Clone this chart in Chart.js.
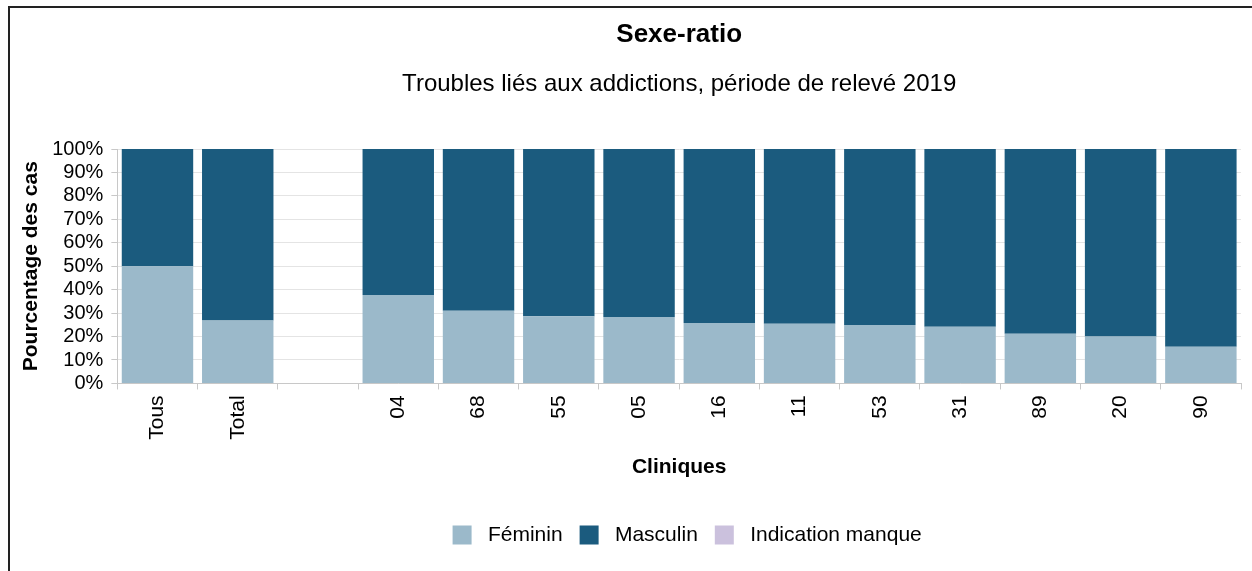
<!DOCTYPE html>
<html>
<head>
<meta charset="utf-8">
<script src="https://cdn.jsdelivr.net/npm/chart.js@4/dist/chart.umd.min.js"></script>
<style>
  html, body { margin: 0; padding: 0; background: #fff; overflow: hidden; }
  #cadre { position: absolute; left: 8px; top: 6px; width: 1300px; height: 600px;
           border-left: 2px solid #222; border-top: 2px solid #222; }
  #myChart { position: absolute; left: 0; top: 0; }
</style>
</head>
<body>
<div id="cadre"></div>
<canvas id="myChart" width="1252" height="571"></canvas>
<script>
// cliniques (la colonne vide sépare les totaux des cliniques)
const cliniques = ['Tous', 'Total', '', '04', '68', '55', '05', '16', '11', '53', '31', '89', '20', '90'];
// pourcentages
const feminin   = [50.0, 26.8, null, 37.7, 31.0, 28.7, 28.3, 25.8, 25.5, 24.9, 24.2, 21.2, 20.0, 15.7];
const masculin  = [50.0, 73.2, null, 62.3, 69.0, 71.3, 71.7, 74.2, 74.5, 75.1, 75.8, 78.8, 80.0, 84.3];
const manque    = [0, 0, null, 0, 0, 0, 0, 0, 0, 0, 0, 0, 0, 0];
const ticksY    = [0, 10, 20, 30, 40, 50, 60, 70, 80, 90, 100];

const police = "'Liberation Sans', Arial, sans-serif";
Chart.defaults.font.family = police;
Chart.defaults.color = '#000';

// centre titres et légende sur la zone du graphique
const centrage = {
    id: 'centrage',
    afterLayout(chart) {
        const zone = chart.chartArea;
        chart.boxes.forEach((box) => {
            if (box.position === 'top' && box.options && box.options.text !== undefined) {
                box.left = zone.left;
                box.right = zone.right;
            }
        });
        if (chart.legend) {
            chart.legend.left = zone.left + 16;
            chart.legend.right = zone.right;
        }
    }
};

const data = {
    labels: cliniques,
    datasets: [
        { label: 'Féminin', data: feminin, backgroundColor: '#9bb9ca' },
        { label: 'Masculin', data: masculin, backgroundColor: '#1b5b7e' },
        { label: 'Indication manque', data: manque, backgroundColor: '#cbc1dd' }
    ]
};

const options = {
    responsive: false,
    animation: false,
    layout: { padding: { left: 8, right: 11, top: 0, bottom: 15.5 } },
    datasets: { bar: { categoryPercentage: 1, barPercentage: 0.89 } },
    scales: {
        x: {
            stacked: true,
            grid: { display: true, drawOnChartArea: false, tickLength: 6, tickColor: '#c8c8c8', offset: true },
            border: { color: '#c8c8c8', width: 1 },
            ticks: { autoSkip: false, maxRotation: 90, minRotation: 90, padding: 6, font: { size: 21 } },
            title: { display: true, text: 'Cliniques', font: { size: 21, weight: 'bold' }, padding: { top: 8.5, bottom: 28 } }
        },
        y: {
            stacked: true,
            min: 0,
            max: 100,
            afterBuildTicks: (axe) => { axe.ticks = ticksY.map(v => ({ value: v })); },
            grid: { color: '#e4e4e4', tickLength: 6, tickColor: '#c8c8c8' },
            border: { color: '#c8c8c8', width: 1 },
            ticks: { autoSkip: false, padding: 8, font: { size: 20 }, callback: (v) => v + '%' },
            title: { display: true, text: 'Pourcentage des cas', font: { size: 21, weight: 'bold' }, padding: { top: 11, bottom: 0 } }
        }
    },
    plugins: {
        title: {
            display: true,
            text: 'Sexe-ratio',
            font: { size: 26, weight: 'bold' },
            padding: { top: 19, bottom: 8 }
        },
        subtitle: {
            display: true,
            text: 'Troubles liés aux addictions, période de relevé 2019',
            font: { size: 24 },
            color: '#000',
            padding: { top: 12, bottom: 50 }
        },
        legend: {
            position: 'bottom',
            labels: {
                font: { size: 21 },
                boxWidth: 19,
                boxHeight: 19,
                padding: 17,
                generateLabels: (chart) => Chart.defaults.plugins.legend.labels.generateLabels(chart)
                    .map((item) => { item.text = ' ' + item.text; return item; })
            }
        },
        tooltip: { enabled: false }
    }
};

const config = { type: 'bar', data: data, options: options, plugins: [centrage] };
const myChart = new Chart(document.getElementById('myChart'), config);
</script>
</body>
</html>
